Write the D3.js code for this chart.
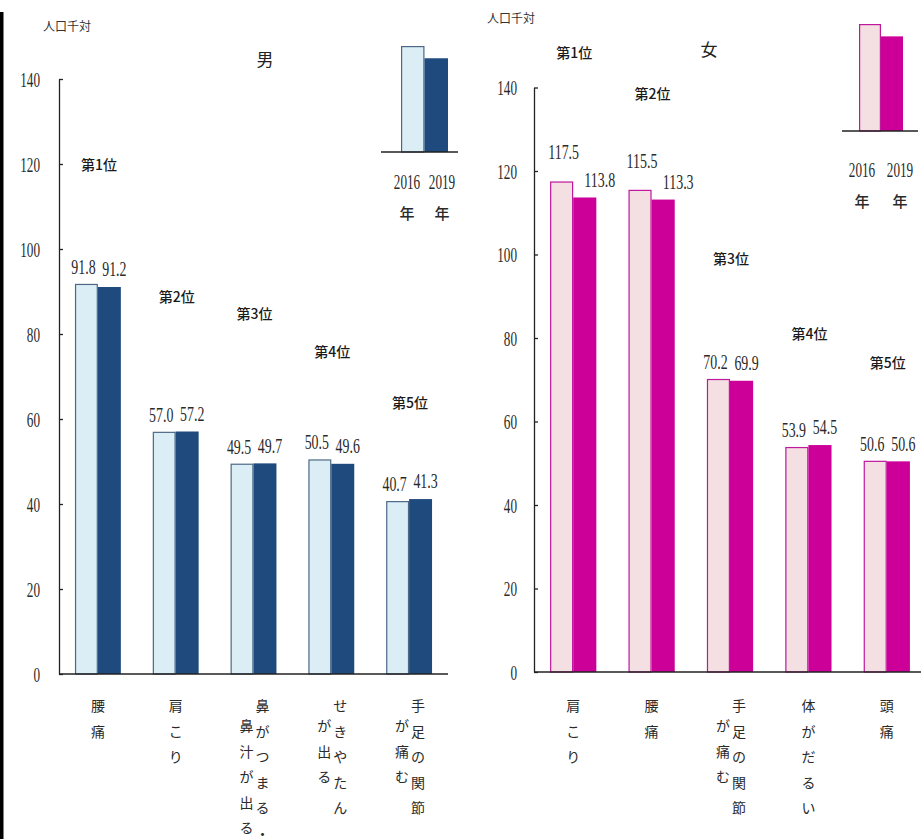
<!DOCTYPE html>
<html><head><meta charset="utf-8">
<script src="https://cdn.jsdelivr.net/npm/d3@7"></script>
<style>body{margin:0;background:#fff;} svg{display:block}</style>
</head><body><svg id="c" width="921" height="839"></svg>
<script>
// ---------- data ----------
const years = ["2016", "2019"];
const yearSuffix = "年";
const yTicks = [0, 20, 40, 60, 80, 100, 120, 140];
const unitLabel = "人口千対";

const maleTitle = "男";
const maleCategories = ["腰痛", "肩こり", "鼻がつまる・鼻汁が出る", "せきやたんが出る", "手足の関節が痛む"];
const maleLabelColumns = [["腰痛"], ["肩こり"], ["鼻がつまる・", "鼻汁が出る"], ["せきやたん", "が出る"], ["手足の関節", "が痛む"]];
const male2016 = [91.8, 57.0, 49.5, 50.5, 40.7];
const male2019 = [91.2, 57.2, 49.7, 49.6, 41.3];
const maleRanks = ["第1位", "第2位", "第3位", "第4位", "第5位"];
const maleRankAt = [120, 89, 85, 76, 64];

const femaleTitle = "女";
const femaleCategories = ["肩こり", "腰痛", "手足の関節が痛む", "体がだるい", "頭痛"];
const femaleLabelColumns = [["肩こり"], ["腰痛"], ["手足の関節", "が痛む"], ["体がだるい"], ["頭痛"]];
const female2016 = [117.5, 115.5, 70.2, 53.9, 50.6];
const female2019 = [113.8, 113.3, 69.9, 54.5, 50.6];
const femaleRanks = ["第1位", "第2位", "第3位", "第4位", "第5位"];
const femaleRankAt = [148.5, 138.7, 99.2, 81.2, 74.3];

const legendSample = [1, 0.89];

// ---------- drawing ----------
const svg = d3.select("#c");
const CJK = "'Noto Sans CJK JP', 'Noto Sans CJK SC', sans-serif";
const SERIF = "'Liberation Serif', 'DejaVu Serif', serif";
const numW = s => Array.from(s).reduce((a, c) => a + (c === "." ? 4.5 : 6.6), 0);

svg.append("rect").attr("x", 0).attr("y", 12).attr("width", 3.5).attr("height", 827).attr("fill", "#000");

function numText(sel) {
  sel.attr("font-family", SERIF).attr("font-size", 20).attr("fill", "#2a2a2a")
    .attr("lengthAdjust", "spacingAndGlyphs")
    .attr("textLength", function () { return numW(d3.select(this).text()); });
}

function drawPanel(p) {
  const g = svg.append("g");
  const x = d3.scaleBand().domain(p.categories).range([p.x0, p.x1]).paddingInner(0.41).paddingOuter(0.205);
  const xs = d3.scaleBand().domain(years).range([0, x.bandwidth()]);
  const y = d3.scaleLinear().domain([0, 140]).range([p.yBase, p.yTop]);

  const rows = p.categories.map((c, i) => ({
    c, i, vals: [{ k: years[0], v: p.v2016[i] }, { k: years[1], v: p.v2019[i] }]
  }));

  // y axis
  const ya = d3.axisLeft(y).tickValues(yTicks).tickSizeInner(-4).tickSizeOuter(0)
    .tickPadding(p.tickPad).tickFormat(d3.format("d"));
  const yg = g.append("g").attr("transform", `translate(${p.x0},0)`).call(ya);
  yg.select(".domain").attr("stroke", "#222").attr("stroke-width", 1.3);
  yg.selectAll(".tick line").attr("stroke", "#222").attr("stroke-width", 1.3);
  yg.selectAll(".tick text").attr("dy", null).attr("dominant-baseline", "central").call(numText);

  // bars
  const grp = g.selectAll("g.grp").data(rows).join("g").attr("class", "grp")
    .attr("transform", d => `translate(${x(d.c)},0)`);
  grp.selectAll("rect").data(d => d.vals).join("rect")
    .attr("x", (d, j) => xs(d.k) + (j === 0 ? 0.6 : 0))
    .attr("width", (d, j) => xs.bandwidth() - (j === 0 ? 1.2 : 0))
    .attr("y", d => y(d.v) + 0.6)
    .attr("height", d => p.yBase - y(d.v) - 0.6)
    .attr("fill", (d, j) => j === 0 ? p.light : p.dark)
    .attr("stroke", (d, j) => j === 0 ? p.lightStroke : "none")
    .attr("stroke-width", 1.2);

  // value labels
  grp.each(function (d) {
    const big = d.vals.some(v => v.v.toFixed(1).length >= 5);
    d3.select(this).selectAll("text.val").data(d.vals).join("text").attr("class", "val")
      .attr("x", (v, j) => xs(v.k) + xs.bandwidth() / 2 + (j === 0 ? (big ? 2 : -3) : (big ? 15 : 5)))
      .attr("y", (v, j) => y(v.v) - (j === 0 && big ? 22 : 10))
      .attr("text-anchor", "middle")
      .text(v => v.v.toFixed(1))
      .call(numText);
  });

  // x axis line
  g.append("line").attr("x1", p.x0).attr("x2", p.x1).attr("y1", p.yBase).attr("y2", p.yBase)
    .attr("stroke", "#222").attr("stroke-width", 1.5);

  // rank labels
  g.selectAll("text.rank").data(rows).join("text").attr("class", "rank")
    .attr("x", d => x(d.c) + x.bandwidth() / 2 + 1)
    .attr("y", d => y(p.rankAt[d.i]))
    .attr("text-anchor", "middle").attr("dominant-baseline", "central")
    .attr("font-family", CJK).attr("font-size", 14).attr("font-weight", 500).attr("fill", "#1a1a1a")
    .text(d => p.ranks[d.i]);

  // vertical category labels
  const step = 25.5;
  rows.forEach(d => {
    const cols = p.columns[d.i];
    const n = cols.length;
    const cx = x(d.c) + x.bandwidth() / 2 + (n > 1 ? 1 : 0);
    cols.forEach((col, j) => {
      const colX = cx + ((n - 1) / 2 - j) * 16;
      const y0 = 705 + j * 20;
      g.selectAll(null).data(Array.from(col)).join("text")
        .attr("x", colX).attr("y", (ch, k) => y0 + k * step)
        .attr("text-anchor", "middle").attr("dominant-baseline", "central")
        .attr("font-family", CJK).attr("font-size", 14).attr("fill", "#2a2a2a")
        .text(ch => ch);
    });
  });

  // unit label and title
  g.append("text").attr("x", p.unitX).attr("y", p.unitY).attr("text-anchor", "middle")
    .attr("dominant-baseline", "central").attr("font-family", CJK).attr("font-size", 12).attr("fill", "#333")
    .text(unitLabel);
  g.append("text").attr("x", p.titleX).attr("y", p.titleY).attr("text-anchor", "middle")
    .attr("dominant-baseline", "central").attr("font-family", CJK).attr("font-size", 17).attr("fill", "#222")
    .text(p.title);

  // legend
  const L = p.leg;
  const lx = d3.scaleBand().domain(years).range([L.bx0, L.bx1]);
  const ly = d3.scaleLinear().domain([0, 1]).range([L.base, L.base - L.h]);
  g.selectAll("rect.leg").data(years).join("rect").attr("class", "leg")
    .attr("x", (k, j) => lx(k) + (j === 0 ? 0.6 : 0))
    .attr("width", (k, j) => lx.bandwidth() - (j === 0 ? 1.2 : 0))
    .attr("y", (k, j) => ly(legendSample[j]) + 0.6)
    .attr("height", (k, j) => L.base - ly(legendSample[j]) - 0.6)
    .attr("fill", (k, j) => j === 0 ? p.light : p.dark)
    .attr("stroke", (k, j) => j === 0 ? p.lightStroke : "none").attr("stroke-width", 1.2);
  g.append("line").attr("x1", L.lx0).attr("x2", L.lx1).attr("y1", L.base).attr("y2", L.base)
    .attr("stroke", "#222").attr("stroke-width", 1.5);
  const lc = (L.bx0 + L.bx1) / 2;
  g.selectAll("text.ly").data(years).join("text").attr("class", "ly")
    .attr("x", (k, j) => lc + (j === 0 ? -L.spread : L.spread)).attr("y", L.textY)
    .attr("text-anchor", "middle").attr("dominant-baseline", "central")
    .text(k => k).call(numText);
  g.selectAll("text.ny").data(years).join("text").attr("class", "ny")
    .attr("x", (k, j) => lc + (j === 0 ? -L.spread : L.spread)).attr("y", L.textY + 30)
    .attr("text-anchor", "middle").attr("dominant-baseline", "central")
    .attr("font-family", CJK).attr("font-size", 15).attr("font-weight", 500).attr("fill", "#2a2a2a")
    .text(yearSuffix);
}

drawPanel({
  categories: maleCategories, columns: maleLabelColumns, v2016: male2016, v2019: male2019,
  ranks: maleRanks, rankAt: maleRankAt, title: maleTitle,
  x0: 59, x1: 448, yTop: 79, yBase: 674, tickPad: 19,
  unitX: 67, unitY: 25, titleX: 265, titleY: 58,
  light: "#dbeef6", lightStroke: "#4d6885", dark: "#1f4a7e",
  leg: { bx0: 401, bx1: 448, lx0: 381, lx1: 458, base: 152, h: 106, spread: 17.5, textY: 182 }
});

drawPanel({
  categories: femaleCategories, columns: femaleLabelColumns, v2016: female2016, v2019: female2019,
  ranks: femaleRanks, rankAt: femaleRankAt, title: femaleTitle,
  x0: 534, x1: 926, yTop: 87.5, yBase: 672, tickPad: 17,
  unitX: 511, unitY: 17, titleX: 709, titleY: 48,
  light: "#f4dfe2", lightStroke: "#c0189c", dark: "#cc0099",
  leg: { bx0: 859, bx1: 903, lx0: 842, lx1: 918, base: 131, h: 107, spread: 19, textY: 170 }
});
</script>
</body></html>
